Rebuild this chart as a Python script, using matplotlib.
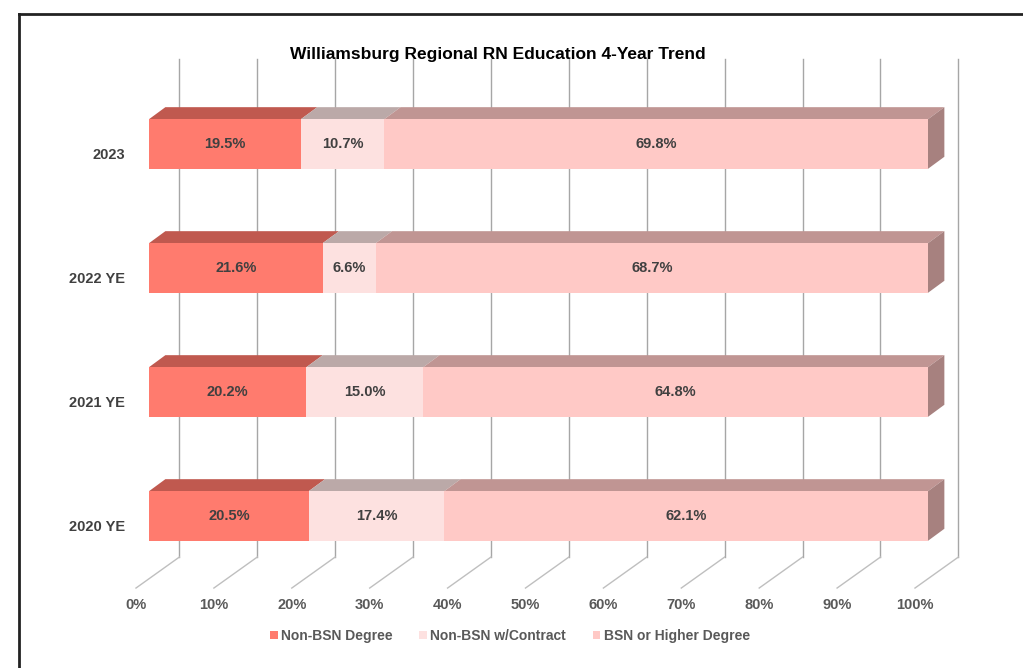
import matplotlib
matplotlib.use('Agg')
import numpy as np
import matplotlib.pyplot as plt
from matplotlib.patches import Polygon, Patch

plt.rcParams['font.family'] = ['Liberation Sans', 'DejaVu Sans']

years = ['2020 YE', '2021 YE', '2022 YE', '2023']
non_bsn = [20.5, 20.2, 21.6, 19.5]
contract = [17.4, 15.0, 6.6, 10.7]
bsn = [62.1, 64.8, 68.7, 69.8]
series_names = ['Non-BSN Degree', 'Non-BSN w/Contract', 'BSN or Higher Degree']
ticks = np.arange(0, 101, 10)

front_cols = ['#FF7B6E', '#FDE1E0', '#FFC9C6']
top_cols = ['#C0594F', '#BBA9A8', '#C09593']
side_col = '#A7817F'

# pseudo-3d geometry (in data units)
bar_h = 0.40
ddx, ddy = 2.1, 0.097        # depth of each bar
wall_dx = 3.9                # back wall shift
floor_back, floor_front = -0.331, -0.581
floor_dx = -1.67
grid_top = 3.685

fig = plt.figure(figsize=(10.23, 6.68), dpi=100)
ax = fig.add_axes([0, 0, 1, 1])
ax.set_xlim(-149 / 7.79, (1023 - 149) / 7.79)
ax.set_ylim((516 - 668) / 124, 516 / 124)
ax.axis('off')

# back wall gridlines and floor
for t in ticks:
    ax.plot([t + wall_dx, t + wall_dx], [floor_back, grid_top], color='#A6A6A6', lw=1, zorder=1)
    ax.plot([t + wall_dx, t + floor_dx], [floor_back, floor_front], color='#BFBFBF', lw=1, zorder=1)
    ax.text(t + floor_dx, -0.715, f'{t}%', ha='center', va='center', fontsize=10.5,
            fontweight='bold', color='#595959')

y = np.arange(len(years))
data = [np.array(non_bsn), np.array(contract), np.array(bsn)]
totals = sum(data)
left = np.zeros(len(years))
for k, vals in enumerate(data):
    share = vals / totals * 100   # 100% stacked
    ax.barh(y, share, left=left, height=bar_h, color=front_cols[k], zorder=3)
    for i in range(len(years)):
        x0, x1 = left[i], left[i] + share[i]
        yt = y[i] + bar_h / 2
        ax.add_patch(Polygon([(x0, yt), (x1, yt), (x1 + ddx, yt + ddy), (x0 + ddx, yt + ddy)],
                             closed=True, facecolor=top_cols[k], edgecolor='none', zorder=2))
        ax.text((x0 + x1) / 2, y[i], f'{vals[i]:.1f}%', ha='center', va='center',
                fontsize=10.5, fontweight='bold', color='#404040', zorder=5)
    left = left + share

for i in range(len(years)):
    xr = left[i]
    yb, yt = y[i] - bar_h / 2, y[i] + bar_h / 2
    ax.add_patch(Polygon([(xr, yb), (xr, yt), (xr + ddx, yt + ddy), (xr + ddx, yb + ddy)],
                         closed=True, facecolor=side_col, edgecolor='none', zorder=2))
    ax.text(-3.08, y[i] - 0.09, years[i], ha='right', va='center', fontsize=10.5,
            fontweight='bold', color='#404040')

fig.text(498 / 1023, 1 - 55 / 668, 'Williamsburg Regional RN Education 4-Year Trend',
         ha='center', va='center', fontsize=12.5, fontweight='bold', color='black')

handles = [Patch(facecolor=c, edgecolor='none') for c in front_cols]
fig.legend(handles, series_names, loc='center', bbox_to_anchor=(510 / 1023, 1 - 636 / 668),
           ncol=3, frameon=False, handlelength=0.55, handleheight=0.55,
           handletextpad=0.25, columnspacing=1.9,
           prop={'weight': 'bold', 'size': 10})
for txt in fig.legends[0].get_texts():
    txt.set_color('#595959')

# outer frame (top and left edges)
ax.plot([-130 / 7.79, 2000 / 7.79], [(516 - 14) / 124] * 2, color='#222222', lw=2, clip_on=False)
ax.plot([-130 / 7.79] * 2, [(516 - 14) / 124, -5], color='#222222', lw=2, clip_on=False)

fig.savefig('out.png', dpi=100)
